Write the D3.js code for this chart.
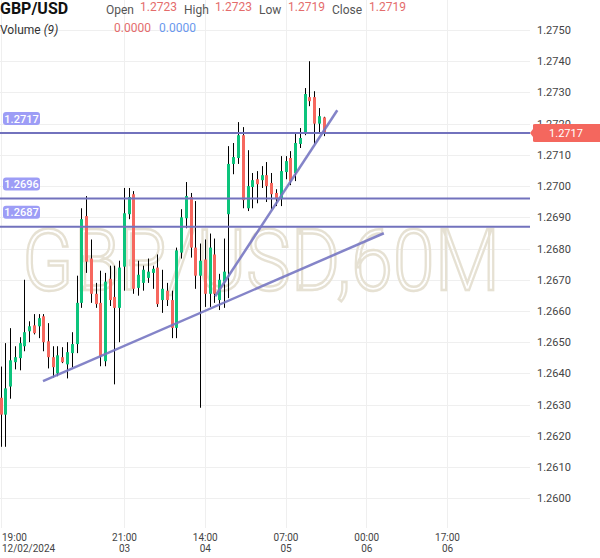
<!DOCTYPE html>
<html>
<head>
<meta charset="utf-8">
<script src="https://cdn.jsdelivr.net/npm/d3@7"></script>
<style>
  body { margin: 0; background: #fff; }
  svg { display: block; font-family: Roboto, "Noto Sans", sans-serif; }
</style>
</head>
<body>
<div class="container"></div>
<script>
// datos
const opens  = [1.26322,1.26268,1.26358,1.26436,1.26449,1.26487,1.26535,1.26554,1.26551,1.26583,
                1.26503,1.26452,1.26400,1.26452,1.26429,1.26465,1.26494,1.26626,1.26904,1.26768,
                1.26655,1.26626,1.26439,1.26703,1.26645,1.26610,1.26742,1.26910,1.26974,1.26674,
                1.26690,1.26706,1.26722,1.26739,1.26635,1.26665,1.26635,1.26546,1.26787,1.26897,
                1.26965,1.26803,1.26713,1.26765,1.26655,1.26781,1.26635,1.26694,1.26910,1.27071,
                1.27090,1.27163,1.26929,1.26997,1.27022,1.27019,1.27035,1.27010,1.26978,1.26958,
                1.27045,1.27090,1.27042,1.27135,1.27167,1.27285,1.27285,1.27200,1.27220]
const highs  = [1.26422,1.26497,1.26545,1.26487,1.26516,1.26700,1.26567,1.26590,1.26590,1.26590,
                1.26561,1.26487,1.26487,1.26484,1.26500,1.26532,1.26713,1.26929,1.26968,1.26829,
                1.26690,1.26729,1.26722,1.26745,1.26745,1.26761,1.26994,1.26994,1.26984,1.26761,
                1.26745,1.26768,1.26745,1.26781,1.26732,1.26690,1.26665,1.26803,1.26926,1.27013,
                1.26978,1.26952,1.26816,1.26829,1.26848,1.26832,1.26719,1.26832,1.27128,1.27138,
                1.27205,1.27189,1.27115,1.27042,1.27048,1.27064,1.27077,1.27042,1.26990,1.27096,
                1.27096,1.27112,1.27170,1.27186,1.27314,1.27400,1.27304,1.27250,1.27222]
const lows   = [1.26165,1.26165,1.26319,1.26413,1.26410,1.26471,1.26500,1.26525,1.26513,1.26471,
                1.26416,1.26387,1.26391,1.26433,1.26384,1.26420,1.26465,1.26610,1.26722,1.26626,
                1.26610,1.26423,1.26423,1.26616,1.26365,1.26500,1.26665,1.26894,1.26655,1.26649,
                1.26665,1.26690,1.26671,1.26613,1.26594,1.26616,1.26513,1.26513,1.26768,1.26865,
                1.26771,1.26671,1.26290,1.26613,1.26613,1.26626,1.26603,1.26610,1.26641,1.27038,
                1.27071,1.26929,1.26920,1.26929,1.26945,1.26994,1.26949,1.26926,1.26936,1.26936,
                1.27022,1.27003,1.27016,1.27122,1.27163,1.27256,1.27135,1.27173,1.27160]
const closes = [1.26268,1.26352,1.26442,1.26452,1.26497,1.26532,1.26551,1.26529,1.26577,1.26500,
                1.26452,1.26420,1.26458,1.26436,1.26468,1.26494,1.26626,1.26894,1.26758,1.26655,
                1.26622,1.26455,1.26694,1.26635,1.26610,1.26739,1.26913,1.26965,1.26671,1.26716,
                1.26732,1.26726,1.26735,1.26622,1.26671,1.26635,1.26546,1.26794,1.26900,1.26968,
                1.26803,1.26713,1.26761,1.26655,1.26803,1.26655,1.26700,1.26726,1.27071,1.27093,
                1.27163,1.26955,1.27000,1.27019,1.27006,1.27035,1.27000,1.26974,1.26958,1.27048,
                1.27080,1.27016,1.27138,1.27154,1.27295,1.27272,1.27200,1.27224,1.27170]

const niveles = [1.2717, 1.2696, 1.2687]
const tendencias = [
    {x1: 8.95, y1: 1.26375, x2: 80.7, y2: 1.26849},
    {x1: 45.2, y1: 1.26647, x2: 70.9, y2: 1.27243}
]
const precioTicks = d3.range(1.2600, 1.27501, 0.001)
const tiempoTicks = [0, 26, 43, 60, 77, 94]
const tiempoHora  = ["19:00", "21:00", "14:00", "07:00", "00:00", "17:00"]
const tiempoDia   = ["12/02/2024", "03", "04", "05", "06", "06"]
const ultimoPrecio = 1.2717

const WIDTH = 600, HEIGHT = 558
const plotRight = 530
const verde = "#0cc47c", rojo = "#f6675e"

const svg = d3.select(".container")
    .append("svg")
    .attr("width", WIDTH)
    .attr("height", HEIGHT)

const x = d3.scaleLinear().domain([0, 94]).range([0.5, 447])
const y = d3.scaleLinear().domain([1.2600, 1.2750]).range([498.3, 30])

// grid
const grid = svg.append("g").attr("class", "grid")
grid.selectAll(".h")
    .data(precioTicks)
    .join("line")
    .attr("x1", 0).attr("x2", plotRight)
    .attr("y1", d => Math.round(y(d)) + 0.5).attr("y2", d => Math.round(y(d)) + 0.5)
    .attr("stroke", "#efefef")
grid.selectAll(".v")
    .data(tiempoTicks)
    .join("line")
    .attr("x1", d => Math.round(x(d)) + 0.5).attr("x2", d => Math.round(x(d)) + 0.5)
    .attr("y1", 0).attr("y2", 528)
    .attr("stroke", "#efefef")

// watermark (escalado en x para que quepa en el area)
const marca = svg.append("text")
    .attr("x", 0)
    .attr("y", 0)
    .attr("text-anchor", "middle")
    .style("font-size", "86px")
    .style("font-weight", 300)
    .attr("fill", "none")
    .attr("stroke", "#e6e1d3")
    .attr("stroke-width", 2.2)
    .text("GBP/USD,60M")
const largo = marca.node().getComputedTextLength()
marca.attr("transform", `translate(261 290) scale(${478 / largo} 1)`)
    .attr("stroke-width", 2.2 * largo / 478)

// velas
const velas = d3.range(opens.length).map(i => ({i, o: opens[i], h: highs[i], l: lows[i], c: closes[i]}))
const g = svg.append("g").attr("class", "velas")
g.selectAll("line")
    .data(velas)
    .join("line")
    .attr("x1", d => Math.round(x(d.i)) + 0.5)
    .attr("x2", d => Math.round(x(d.i)) + 0.5)
    .attr("y1", d => y(d.h))
    .attr("y2", d => y(d.l))
    .attr("stroke", "#000")
    .attr("stroke-width", 1)
g.selectAll("rect")
    .data(velas)
    .join("rect")
    .attr("x", d => Math.round(x(d.i)) - 1)
    .attr("width", 3)
    .attr("y", d => y(Math.max(d.o, d.c)))
    .attr("height", d => Math.max(1, Math.abs(y(d.o) - y(d.c))))
    .attr("fill", d => d.c >= d.o ? verde : rojo)

// niveles horizontales
svg.selectAll(".nivel")
    .data(niveles)
    .join("line")
    .attr("x1", 0).attr("x2", plotRight)
    .attr("y1", d => y(d)).attr("y2", d => y(d))
    .attr("stroke", "#7272bd")
    .attr("stroke-width", 2)

const etiquetas = svg.selectAll(".etq")
    .data(niveles)
    .join("g")
    .attr("transform", d => `translate(3 ${y(d) - 21})`)
etiquetas.append("rect")
    .attr("width", 37).attr("height", 13)
    .attr("rx", 3)
    .attr("fill", "#9d9df6")
etiquetas.append("text")
    .attr("x", 18.5).attr("y", 10.5)
    .attr("text-anchor", "middle")
    .attr("fill", "#fff")
    .style("font-size", "11px")
    .style("font-weight", 500)
    .text(d => d.toFixed(4))

// lineas de tendencia
svg.selectAll(".tend")
    .data(tendencias)
    .join("line")
    .attr("x1", d => x(d.x1)).attr("y1", d => y(d.y1))
    .attr("x2", d => x(d.x2)).attr("y2", d => y(d.y2))
    .attr("stroke", "#7777c2")
    .attr("stroke-opacity", 0.9)
    .attr("stroke-width", 2.5)

// eje de precios
const ejeY = svg.append("g")
    .attr("transform", `translate(${plotRight + 6} 0)`)
    .call(d3.axisRight(y).tickValues(precioTicks).tickFormat(d3.format(".4f")).tickSize(0))
ejeY.select(".domain").remove()
ejeY.selectAll("text")
    .attr("x", 1)
    .attr("fill", "#444")
    .style("font-size", "11px")
    .style("font-family", "Roboto, sans-serif")

// etiqueta del ultimo precio
const yp = y(ultimoPrecio)
svg.append("path")
    .attr("d", `M${plotRight} ${yp} L${plotRight + 3} ${yp - 4} L${plotRight + 3} ${yp - 8} Q${plotRight + 3} ${yp - 9} ${plotRight + 5} ${yp - 9} L600 ${yp - 9} L600 ${yp + 9} L${plotRight + 5} ${yp + 9} Q${plotRight + 3} ${yp + 9} ${plotRight + 3} ${yp + 8} L${plotRight + 3} ${yp + 4} Z`)
    .attr("fill", "#f4675e")
svg.append("text")
    .attr("x", 566).attr("y", yp + 4)
    .attr("text-anchor", "middle")
    .attr("fill", "#fff")
    .style("font-size", "11px")
    .text(ultimoPrecio.toFixed(4))

// eje de tiempo: hora arriba, dia abajo
const ejeX = svg.append("g")
    .attr("transform", "translate(0 528)")
    .call(d3.axisBottom(x).tickValues(tiempoTicks).tickSize(0).tickFormat((d, k) => tiempoHora[k]))
ejeX.select(".domain").remove()
ejeX.selectAll(".tick text")
    .attr("y", 12.5).attr("dy", null)
    .attr("x", (d, k) => k === 0 ? 1.5 - x(d) : 0)
    .attr("text-anchor", (d, k) => k === 0 ? "start" : "middle")
    .attr("fill", "#444")
    .style("font-size", "10px")
    .style("font-family", "Roboto, sans-serif")
ejeX.selectAll(".tick")
    .append("text")
    .attr("y", 24)
    .attr("x", (d, k) => k === 0 ? 1.5 - x(d) : 0)
    .attr("text-anchor", (d, k) => k === 0 ? "start" : "middle")
    .attr("fill", "#444")
    .style("font-size", "10px")
    .style("font-family", "Roboto, sans-serif")
    .text((d, k) => tiempoDia[k])

// cabecera
const cab = svg.append("g").style("font-size", "12px")
cab.append("text").attr("x", 0).attr("y", 14)
    .style("font-size", "16px").style("font-weight", 700).attr("fill", "#111").text("GBP/USD")
const campos = [
    {n: "Open", xn: 106, v: "1.2723", xv: 140},
    {n: "High", xn: 184, v: "1.2723", xv: 215},
    {n: "Low", xn: 259, v: "1.2719", xv: 288},
    {n: "Close", xn: 332, v: "1.2719", xv: 369}
]
campos.forEach(c => {
    cab.append("text").attr("x", c.xn).attr("y", 14).attr("fill", "#555").text(c.n)
    cab.append("text").attr("x", c.xv).attr("y", 10.5).attr("fill", "#e46c6c").text(c.v)
})
const vol = cab.append("text").attr("x", 0).attr("y", 34).attr("fill", "#333")
vol.append("tspan").text("Volume ")
vol.append("tspan").style("font-style", "italic").text("(9)")
cab.append("text").attr("x", 114).attr("y", 32).attr("fill", "#e46c6c").text("0.0000")
cab.append("text").attr("x", 159).attr("y", 32).attr("fill", "#6a98ee").text("0.0000")
</script>
</body>
</html>
